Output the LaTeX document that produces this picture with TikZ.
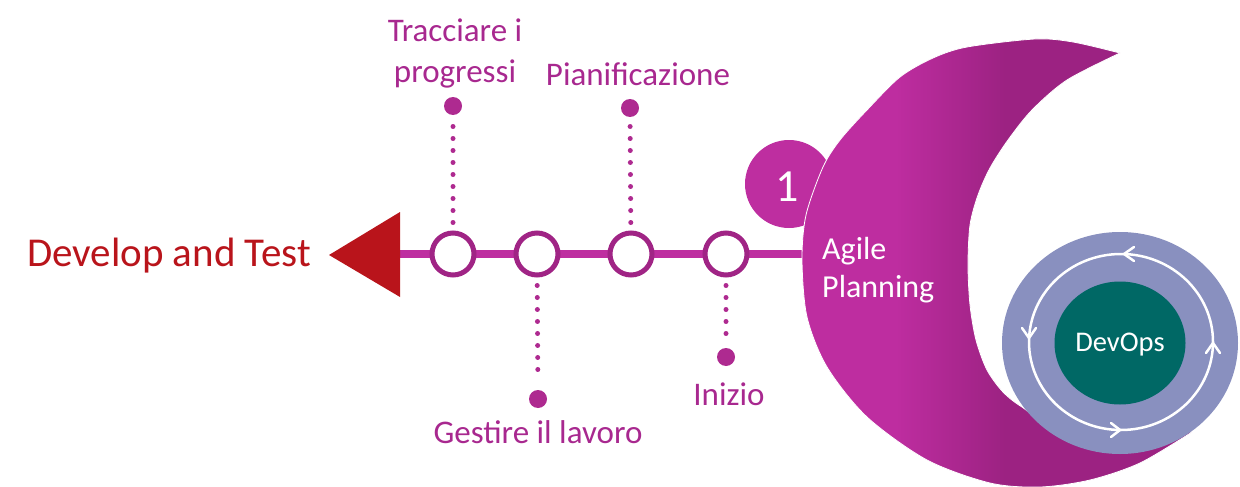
\documentclass[tikz,border=0pt]{standalone}
\usepackage{fontspec}
\setmainfont{Carlito}
\usetikzlibrary{shapes.geometric}
\definecolor{magbar}{HTML}{BE2EA0}
\definecolor{magring}{HTML}{A02485}
\definecolor{magdot}{HTML}{AE2A90}
\definecolor{magtext}{HTML}{A8288F}
\definecolor{devred}{HTML}{B9141B}
\definecolor{cbright}{HTML}{BE2DA0}
\definecolor{cdark}{HTML}{9C2282}
\definecolor{lav}{HTML}{8990BF}
\definecolor{devteal}{HTML}{006865}
\pgfdeclarehorizontalshading{crescshade}{100bp}{color(0bp)=(cbright); color(37bp)=(cbright); color(51bp)=(cdark); color(100bp)=(cdark)}
\begin{document}
\begin{tikzpicture}[x=1pt,y=-1pt,
  ringnode/.style={circle,draw=magring,line width=5pt,fill=white,minimum size=42pt,inner sep=0pt},
  bigdot/.style={circle,fill=magdot,minimum size=18pt,inner sep=0pt},
  dotline/.style={draw=magdot,line width=5pt,line cap=round,dash pattern=on 0pt off 12pt,shorten <=8pt,shorten >=9pt},
  lbl/.style={text=magtext,font=\fontsize{33pt}{40pt}\selectfont,inner sep=0pt,align=center},
  chev/.style={draw=white,line width=2.5pt,line cap=round,line join=round}]
\useasboundingbox (0,0) rectangle (1240,487);
% number circle
\node[circle,fill=magbar,minimum size=88pt,inner sep=0pt] (num) at (789,184) {};
% bar
\coordinate (tribase) at (400,254);
\coordinate (barend) at (808,254);
\draw[magbar,line width=8pt] (tribase) -- (barend);
% crescent
\shade[shading=crescshade,draw=white,line width=0.8pt]
  plot[smooth] coordinates {(1120,53) (1073,42) (1035,39) (967,47) (933,58) (900,77) (867,110) (840,140) (823,167) (806,215) (802,260) (807,317) (827,367) (867,417) (927,460) (990,483) (1040,487) (1090,480) (1140,463) (1192,432)}
  -- plot[smooth] coordinates {(1160,425) (1050,420) (1022,407) (1003,392) (987,370) (976,340) (970,305) (968,265) (970,225) (978,195) (990,168) (1008,140) (1032,110) (1067,80) (1120,53)}
  -- cycle;
\node[text=white,font=\fontsize{46pt}{50pt}\selectfont,inner sep=0pt,anchor=base] (numtxt) at (787,201) {1};
\node[text=white,font=\fontsize{32pt}{38pt}\selectfont,inner sep=0pt,align=left,anchor=base west] (agile) at (822,297) {Agile\\Planning};
% arrow head
\fill[devred] (329,255) -- (400,212) -- (400,297) -- cycle;
\node[text=devred,font=\fontsize{41pt}{46pt}\selectfont,inner sep=0pt,anchor=base west] (dev) at (27,266) {Develop and Test};
% milestone circles
\node[ringnode] (c1) at (453,254) {};
\node[ringnode] (c2) at (537,254) {};
\node[ringnode] (c3) at (631,254) {};
\node[ringnode] (c4) at (726,254) {};
% dots
\node[bigdot] (d1) at (453,106) {};
\node[bigdot] (d2) at (538,399) {};
\node[bigdot] (d3) at (630,108) {};
\node[bigdot] (d4) at (726,357) {};
\draw[dotline] (c1) -- (d1);
\draw[dotline] (c2) -- (d2);
\draw[dotline] (c3) -- (d3);
\draw[dotline] (c4) -- (d4);
% labels
\node[lbl,anchor=base] (l1) at (455,82) {Tracciare i\\progressi};
\node[lbl,anchor=base] (l3) at (638,85) {Pianificazione};
\node[lbl,anchor=base] (l2) at (538,443) {Gestire il lavoro};
\node[lbl,anchor=base] (l4) at (729,405) {Inizio};
% DevOps
\fill[lav] (1120,343) ellipse [x radius=118, y radius=111];
\node[ellipse,fill=devteal,minimum width=131pt,minimum height=123pt,inner sep=0pt] (devops) at (1120,343) {};
\draw[white,line width=2.5pt] (1121,342) ellipse [x radius=92, y radius=88];
\draw[chev] (1134,247) -- (1124,254) -- (1134,261);
\draw[chev] (1022,328) -- (1029,338) -- (1036,328);
\draw[chev] (1111,423) -- (1120,430) -- (1111,437);
\draw[chev] (1206,353) -- (1213,343) -- (1220,353);
\node[text=white,font=\fontsize{28.5pt}{32pt}\selectfont,inner sep=0pt,anchor=base] (devtxt) at (1120,351) {DevOps};
\end{tikzpicture}
\end{document}
